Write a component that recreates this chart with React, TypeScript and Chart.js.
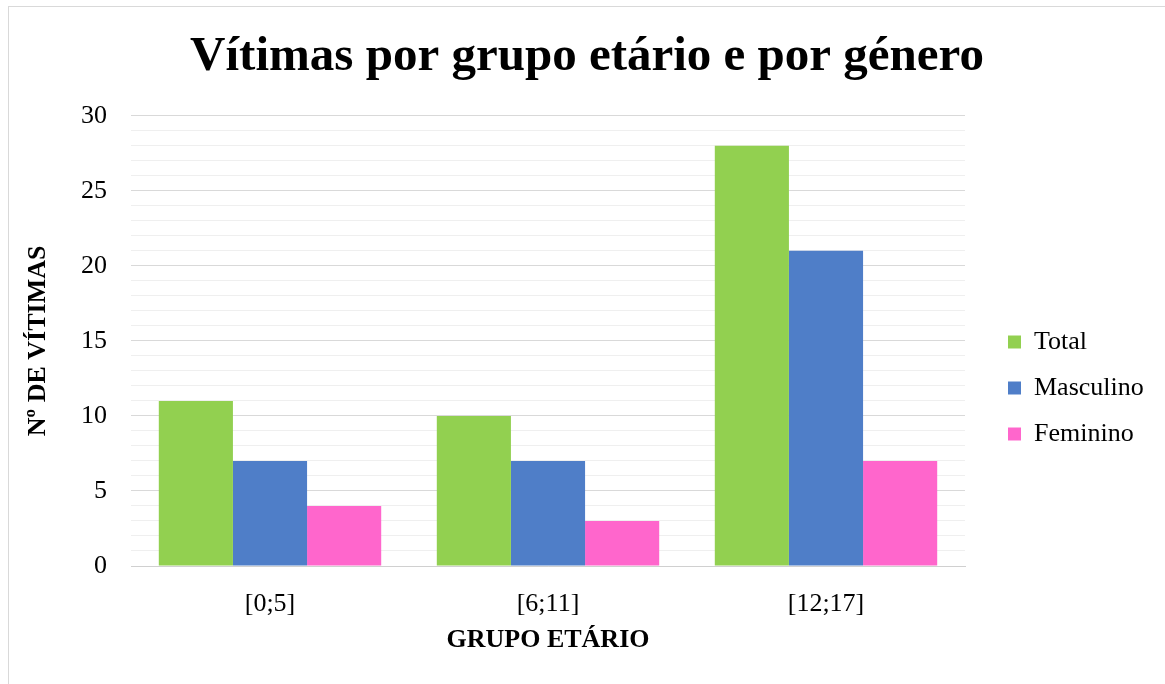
import React, { useEffect, useRef } from "react";
import { Chart, registerables } from "chart.js";

Chart.register(...registerables);

const categories = ["[0;5]", "[6;11]", "[12;17]"];
const seriesNames = ["Total", "Masculino", "Feminino"];
const totalValues = [11, 10, 28];
const masculinoValues = [7, 7, 21];
const femininoValues = [4, 3, 7];
const seriesColors = ["#92d050", "#4f7ec8", "#ff66cc"];
const yMin = 0;
const yMax = 30;
const yMajorStep = 5;

const titleText = "Vítimas por grupo etário e por género";
const yTitleText = "Nº DE VÍTIMAS";
const xTitleText = "GRUPO ETÁRIO";

const FONT = "'Liberation Serif', 'Times New Roman', serif";

const LEGEND_WIDTH = 200;
const LEGEND_BOX_X = 999;
const LEGEND_FIRST_Y = 322;
const LEGEND_PAD = 20;
const Y_AXIS_WIDTH = 122;
const X_AXIS_HEIGHT = 118;

const legendPlugin = {
  id: "legendTweak",
  beforeLayout(chart: any) {
    const lg = chart.legend;
    if (lg && !lg._patched) {
      const orig = lg.fit.bind(lg);
      lg.fit = function () {
        orig();
        this.width = LEGEND_WIDTH;
      };
      lg._patched = true;
    }
  },
  afterLayout(chart: any) {
    const lg = chart.legend;
    if (lg && lg.columnSizes && lg.columnSizes[0]) {
      const colH = lg.columnSizes[0].height;
      lg.left = LEGEND_BOX_X - LEGEND_PAD;
      lg.right = lg.left + LEGEND_WIDTH;
      lg.top = LEGEND_FIRST_Y - LEGEND_PAD;
      lg.bottom = LEGEND_FIRST_Y + colH;
    }
  },
};

export default function App() {
  const canvasRef = useRef<HTMLCanvasElement | null>(null);

  useEffect(() => {
    if (!canvasRef.current) return;
    const values = [totalValues, masculinoValues, femininoValues];
    const chart = new Chart(canvasRef.current, {
      type: "bar",
      data: {
        labels: categories,
        datasets: seriesNames.map((name, i) => ({
          label: name,
          data: values[i],
          backgroundColor: seriesColors[i],
          borderWidth: 0,
          categoryPercentage: 0.8,
          barPercentage: 1.0,
        })),
      },
      options: {
        animation: false,
        responsive: false,
        maintainAspectRatio: false,
        layout: { padding: 0 },
        plugins: {
          title: {
            display: true,
            text: titleText,
            color: "#000",
            font: { family: FONT, size: 49, weight: "bold" },
            padding: { top: 21, bottom: 29 },
          },
          legend: {
            display: true,
            position: "right",
            labels: {
              boxWidth: 13,
              boxHeight: 13,
              padding: LEGEND_PAD,
              color: "#000",
              font: { family: FONT, size: 26 },
            },
          },
          tooltip: { enabled: false },
        },
        scales: {
          x: {
            grid: { display: false, drawTicks: false },
            border: { display: true, color: "#d0d0d0", width: 1 },
            ticks: {
              color: "#000",
              padding: 23,
              font: { family: FONT, size: 26 },
            },
            title: {
              display: true,
              text: xTitleText,
              color: "#000",
              font: { family: FONT, size: 26, weight: "bold" },
              padding: { top: 4, bottom: 28 },
            },
            afterFit: (scale: any) => {
              scale.height = X_AXIS_HEIGHT;
            },
          },
          y: {
            min: yMin,
            max: yMax,
            grid: {
              drawTicks: false,
              color: (ctx: any) =>
                ctx.tick && ctx.tick.value % yMajorStep === 0 ? "#d9d9d9" : "#efefef",
              lineWidth: 1,
            },
            border: { display: false },
            ticks: {
              stepSize: 1,
              autoSkip: false,
              color: "#000",
              padding: 24,
              font: { family: FONT, size: 26 },
              callback: (v: any) => (Number(v) % yMajorStep === 0 ? String(v) : ""),
            },
            title: {
              display: true,
              text: yTitleText,
              color: "#000",
              font: { family: FONT, size: 26, weight: "bold" },
              padding: { top: 14, bottom: 4 },
            },
            afterFit: (scale: any) => {
              scale.width = Y_AXIS_WIDTH;
            },
          },
        },
      },
      plugins: [legendPlugin],
    });
    return () => chart.destroy();
  }, []);

  return (
    <div
      style={{
        position: "absolute",
        left: 8,
        top: 6,
        borderTop: "1px solid #d9d9d9",
        borderLeft: "1px solid #d9d9d9",
        background: "#fff",
      }}
    >
      <canvas ref={canvasRef} width={1156} height={677} style={{ display: "block" }} />
    </div>
  );
}
